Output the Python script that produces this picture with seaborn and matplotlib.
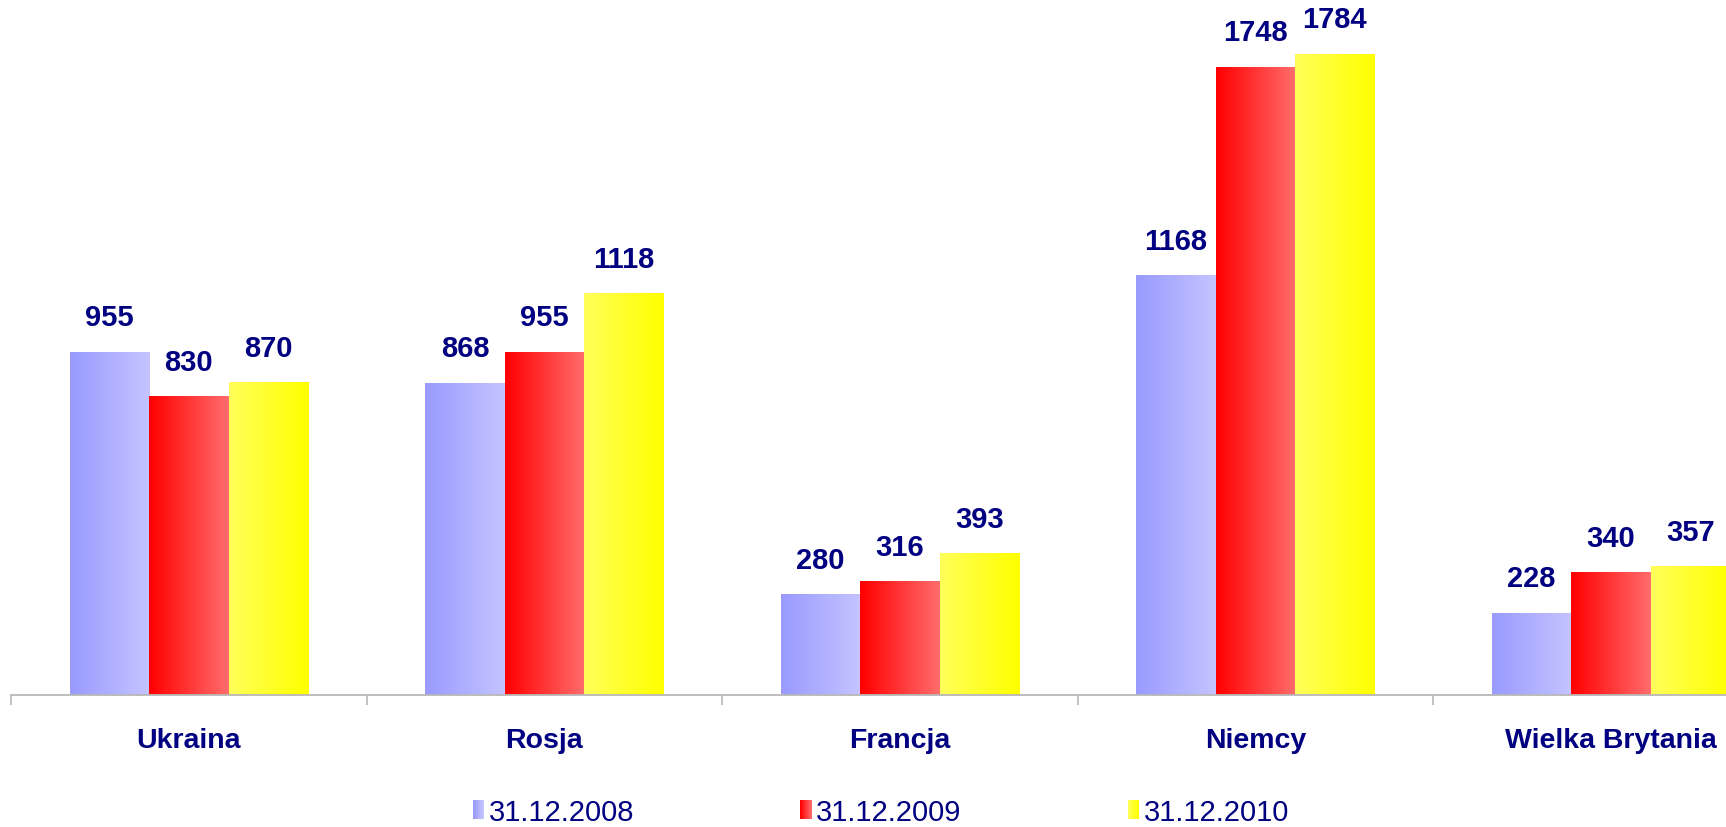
import matplotlib
matplotlib.use("Agg")
import numpy as np
import pandas as pd
import seaborn as sns
import matplotlib.pyplot as plt
from matplotlib.colors import to_rgb
from matplotlib.patches import Rectangle
from matplotlib.legend_handler import HandlerBase

# ---- data ----
countries = ["Ukraina", "Rosja", "Francja", "Niemcy", "Wielka Brytania"]
dates = ["31.12.2008", "31.12.2009", "31.12.2010"]
v2008 = [955, 868, 280, 1168, 228]
v2009 = [830, 955, 316, 1748, 340]
v2010 = [870, 1118, 393, 1784, 357]

# gradient (left, right) colours per series
grads = [("#9a9aff", "#c4c4ff"), ("#ff0000", "#ff6c6c"), ("#ffff5a", "#ffff00")]
navy = "#000080"

df = pd.DataFrame({
    "kraj": countries * 3,
    "data": [dates[0]] * 5 + [dates[1]] * 5 + [dates[2]] * 5,
    "val": v2008 + v2009 + v2010,
})

sns.set_theme(style="white")
plt.rcParams["font.family"] = ["Liberation Sans", "DejaVu Sans"]

fig = plt.figure(figsize=(17.26, 8.28), dpi=100)
ax = fig.add_axes([0.0064, 0.1594, 1.030, 0.8406])

mid = [tuple((np.array(to_rgb(a)) + np.array(to_rgb(b))) / 2) for a, b in grads]
sns.barplot(data=df, x="kraj", y="val", hue="data", order=countries,
            hue_order=dates, palette=mid, width=0.67, saturation=1,
            legend=False, ax=ax)


def grad_img(c0, c1, n=64):
    a, b = np.array(to_rgb(c0)), np.array(to_rgb(c1))
    t = np.linspace(0, 1, n)[:, None]
    return (a + (b - a) * t)[None, :, :]


for cont, (c0, c1) in zip(ax.containers, grads):
    img = grad_img(c0, c1)
    for bar in cont:
        x0, w, h = bar.get_x(), bar.get_width(), bar.get_height()
        ax.imshow(img, extent=[x0, x0 + w, 0, h], aspect="auto",
                  interpolation="bilinear", zorder=bar.get_zorder() + 0.1)
        bar.set_facecolor("none")
    ax.bar_label(cont, labels=[f"{int(b.get_height())}" for b in cont],
                 padding=15, fontsize=21, fontweight="bold", color=navy)

ax.set_xlim(-0.5, 4.5)
ax.set_ylim(0, 1938)
ax.set_yticks([])
ax.set_xlabel("")
ax.set_ylabel("")
for s in ["left", "top", "right"]:
    ax.spines[s].set_visible(False)
ax.spines["bottom"].set_color("#b8b8b8")
ax.spines["bottom"].set_linewidth(1.3)
ax.set_xticks(np.arange(-0.5, 5, 1), minor=True)
ax.tick_params(axis="x", which="minor", length=7, width=1.2, color="#b8b8b8",
               direction="out", bottom=True)
ax.tick_params(axis="x", which="major", length=0, pad=23, labelsize=20.5,
               labelcolor=navy)
for lab in ax.get_xticklabels():
    lab.set_fontweight("bold")


class GradHandler(HandlerBase):
    def __init__(self, c0, c1):
        super().__init__()
        self.c0, self.c1 = np.array(to_rgb(c0)), np.array(to_rgb(c1))

    def create_artists(self, legend, orig_handle, xdescent, ydescent,
                       width, height, fontsize, trans):
        n = 12
        arts = []
        for i in range(n):
            col = self.c0 + (self.c1 - self.c0) * (i / (n - 1))
            arts.append(Rectangle((-xdescent + i * width / n, -ydescent),
                                  width / n * 1.08, height, facecolor=col,
                                  edgecolor="none", transform=trans))
        return arts


handles = [Rectangle((0, 0), 1, 1) for _ in dates]
hmap = {h: GradHandler(c0, c1) for h, (c0, c1) in zip(handles, grads)}
leg = fig.legend(handles, dates, handler_map=hmap, ncol=3, frameon=False,
                 loc="center", bbox_to_anchor=(0.5104, 0.0185),
                 fontsize=21, handlelength=0.38, handleheight=0.62,
                 handletextpad=0.16, columnspacing=5.7, borderpad=0,
                 borderaxespad=0)
for t in leg.get_texts():
    t.set_color(navy)

fig.savefig("out.png", dpi=100)
